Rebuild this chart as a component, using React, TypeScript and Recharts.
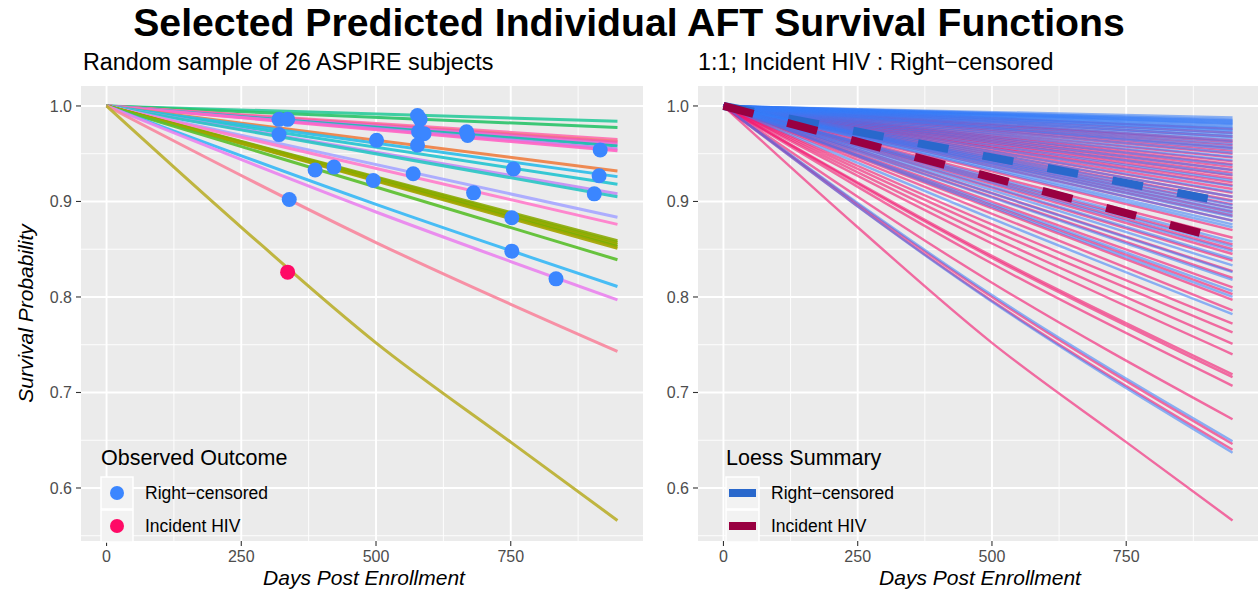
import { ComposedChart, Line, Scatter, XAxis, YAxis, CartesianGrid } from 'recharts';

const FONT = "'Liberation Sans', Arial, sans-serif";
const DAY_END = 948;

const majorX = [0, 250, 500, 750];
const minorX = [125, 375, 625, 875];
const majorY = [0.6, 0.7, 0.8, 0.9, 1.0];
const minorY = [0.55, 0.65, 0.75, 0.85, 0.95];

// left panel: predicted survival at end of follow-up, one per sampled subject
const leftEnds = [
  0.984, 0.9775, 0.965, 0.963, 0.962, 0.96, 0.958, 0.955, 0.953,
  0.932, 0.926, 0.918, 0.908, 0.905, 0.8835, 0.876,
  0.859, 0.857, 0.855, 0.853, 0.851, 0.839, 0.811, 0.797, 0.743, 0.566,
];
const leftColors = [
  '#2FCB9C', '#2DC36B', '#FF6FB0', '#F3837E', '#F45BA9', '#E572D9', '#17BFB0', '#C97BEA', '#FF66C4',
  '#EE8044', '#2EBDE8', '#26C4D0', '#C48DF3', '#2BC6C4', '#A7A7FF', '#FF7DCB',
  '#8DAA0B', '#84AD00', '#98A800', '#7CAE00', '#A3A500', '#5BBF2F', '#3AB8F5', '#E984EE', '#F7889E', '#BBB031',
];
// [curve index, day, survival]
const leftBends: [number, number, number][] = [
  [22, 500, 0.897],
  [23, 500, 0.889],
  [24, 500, 0.857],
  [25, 250, 0.873],
  [25, 500, 0.752],
  [25, 750, 0.648],
];

const censoredDays = [320, 336, 320, 501, 577, 582, 579, 589, 577, 668, 670, 916, 387, 422, 495, 569, 755, 681, 914, 905, 339, 752, 752, 834];
const censoredSurv = [0.986, 0.986, 0.97, 0.964, 0.99, 0.986, 0.973, 0.971, 0.959, 0.973, 0.969, 0.954, 0.933, 0.936, 0.922, 0.929, 0.934, 0.909, 0.927, 0.908, 0.902, 0.883, 0.848, 0.819];
const hivDays = [336];
const hivSurv = [0.826];

// right panel: 1:1 sample of censored (blue) and incident HIV (pink) subjects
const blueEnds = [
  0.988, 0.986, 0.985, 0.984, 0.983, 0.982, 0.981, 0.98, 0.978, 0.977,
  0.975, 0.974, 0.972, 0.97, 0.968, 0.966, 0.963, 0.96, 0.957, 0.955,
  0.951, 0.947, 0.943, 0.938, 0.933, 0.928, 0.922, 0.916, 0.91, 0.905,
  0.9, 0.896, 0.893, 0.89, 0.887, 0.884, 0.88, 0.876, 0.873, 0.858,
  0.853, 0.848, 0.84, 0.833, 0.826, 0.818, 0.806, 0.8, 0.782, 0.649, 0.637,
];
const blueBends: [number, number, number][] = [
  [48, 500, 0.882],
  [49, 500, 0.802],
  [50, 500, 0.795],
];
const pinkEnds = [
  0.976, 0.972, 0.968, 0.964, 0.962, 0.959, 0.956, 0.953, 0.95, 0.946,
  0.942, 0.939, 0.936, 0.933, 0.93, 0.927, 0.924, 0.92, 0.917, 0.913,
  0.909, 0.905, 0.901, 0.897, 0.893, 0.889, 0.885, 0.88, 0.87, 0.862,
  0.855, 0.85, 0.845, 0.838, 0.827, 0.82, 0.81, 0.803, 0.797, 0.786,
  0.772, 0.763, 0.751, 0.74, 0.719, 0.716, 0.707, 0.672, 0.646, 0.64, 0.566,
];
const pinkBends: [number, number, number][] = [
  [40, 500, 0.876],
  [41, 500, 0.87],
  [42, 500, 0.863],
  [43, 500, 0.856],
  [44, 500, 0.843],
  [45, 500, 0.841],
  [46, 500, 0.835],
  [47, 500, 0.815],
  [48, 500, 0.8],
  [49, 500, 0.796],
  [50, 250, 0.873],
  [50, 500, 0.752],
  [50, 750, 0.648],
];

const loessBlueEnd = 0.898;
const loessRedEnd = 0.858;

function curve(i: number, end: number, bends: [number, number, number][]) {
  const mid = bends.filter((b) => b[0] === i).map((b) => ({ day: b[1], s: b[2] }));
  return [{ day: 0, s: 1 }, ...mid, { day: DAY_END, s: end }];
}

function pairs(days: number[], surv: number[]) {
  return days.map((d, i) => ({ day: d, s: surv[i] }));
}

const tickStyle = { fontSize: 16, fill: '#4D4D4D', fontFamily: FONT };

function Panel({ width, left, children }: { width: number; left: number; children: React.ReactNode }) {
  return (
    <ComposedChart width={width} height={592} margin={{ top: 86, right: 0, bottom: 21, left }}>
      <CartesianGrid fill="#EBEBEB" stroke="#FFFFFF" strokeWidth={0.9} horizontalValues={minorY} verticalValues={minorX} />
      <CartesianGrid stroke="#FFFFFF" strokeWidth={1.9} horizontalValues={majorY} verticalValues={majorX} />
      <XAxis
        dataKey="day"
        type="number"
        domain={[-47.4, 995.4]}
        ticks={majorX}
        allowDataOverflow
        axisLine={false}
        tickLine={{ stroke: '#333333', strokeWidth: 1.1 }}
        tickSize={5}
        tickMargin={5}
        height={30}
        tick={tickStyle}
      />
      <YAxis
        dataKey="s"
        type="number"
        domain={[0.5445, 1.0209]}
        ticks={majorY}
        allowDataOverflow
        axisLine={false}
        tickLine={{ stroke: '#333333', strokeWidth: 1.1 }}
        tickSize={5}
        tickMargin={4}
        width={36}
        tick={tickStyle}
        tickFormatter={(v: number) => v.toFixed(1)}
      />
      {children}
    </ComposedChart>
  );
}

const dot = (color: string) => (p: any) => <circle cx={p.cx} cy={p.cy} r={7.5} fill={color} />;

export default function App() {
  const rightLines: React.ReactNode[] = [];
  blueEnds.forEach((end, i) => {
    rightLines.push(
      <Line key={`b${i}`} data={curve(i, end, blueBends)} dataKey="s" type="monotone" stroke="#377BF7"
        strokeOpacity={0.55} strokeWidth={2.4} dot={false} activeDot={false} isAnimationActive={false} />
    );
    if (i < pinkEnds.length) {
      rightLines.push(
        <Line key={`p${i}`} data={curve(i, pinkEnds[i], pinkBends)} dataKey="s" type="monotone" stroke="#F3146E"
          strokeOpacity={0.6} strokeWidth={2.4} dot={false} activeDot={false} isAnimationActive={false} />
      );
    }
  });

  return (
    <div style={{ position: 'absolute', left: 0, top: 0, width: 1258, height: 592, background: '#fff', fontFamily: FONT }}>
      <div style={{ position: 'absolute', left: 0, top: 0 }}>
        <Panel width={643} left={45}>
          {leftEnds.map((end, i) => (
            <Line key={i} data={curve(i, end, leftBends)} dataKey="s" type="monotone" stroke={leftColors[i]}
              strokeOpacity={0.92} strokeWidth={3} dot={false} activeDot={false} isAnimationActive={false} />
          ))}
          <Scatter data={pairs(censoredDays, censoredSurv)} dataKey="s" shape={dot('#3B86FF')} isAnimationActive={false} />
          <Scatter data={pairs(hivDays, hivSurv)} dataKey="s" shape={dot('#FF0A66')} isAnimationActive={false} />
        </Panel>
      </div>
      <div style={{ position: 'absolute', left: 645, top: 0 }}>
        <Panel width={613} left={17}>
          {rightLines}
          <Line data={[{ day: 0, s: 1 }, { day: DAY_END, s: loessBlueEnd }]} dataKey="s" stroke="#2968CC" strokeWidth={8}
            strokeDasharray="31 35" dot={false} activeDot={false} isAnimationActive={false} />
          <Line data={[{ day: 0, s: 1 }, { day: DAY_END, s: loessRedEnd }]} dataKey="s" stroke="#990041" strokeWidth={8}
            strokeDasharray="31 35" dot={false} activeDot={false} isAnimationActive={false} />
        </Panel>
      </div>
      <svg width={1258} height={592} style={{ position: 'absolute', left: 0, top: 0, pointerEvents: 'none' }} fontFamily={FONT}>
        <text x={629} y={36} textAnchor="middle" fontSize={39.2} fontWeight="bold" fill="#000">
          Selected Predicted Individual AFT Survival Functions
        </text>
        <text x={83} y={70} fontSize={23.3} fill="#000">Random sample of 26 ASPIRE subjects</text>
        <text x={698} y={70} fontSize={23.3} fill="#000">1:1; Incident HIV : Right−censored</text>
        <text transform="translate(33,313.5) rotate(-90)" textAnchor="middle" fontSize={21} fontStyle="italic" fill="#000">
          Survival Probability
        </text>
        <text x={364} y={585} textAnchor="middle" fontSize={21} fontStyle="italic" fill="#000">Days Post Enrollment</text>
        <text x={980} y={585} textAnchor="middle" fontSize={21} fontStyle="italic" fill="#000">Days Post Enrollment</text>

        <text x={101} y={465} fontSize={21.5} fill="#000">Observed Outcome</text>
        <rect x={101} y={477} width={32} height={32} fill="#F2F2F2" stroke="#FFFFFF" strokeWidth={1.5} />
        <rect x={101} y={510} width={32} height={32} fill="#F2F2F2" stroke="#FFFFFF" strokeWidth={1.5} />
        <circle cx={117} cy={493} r={7} fill="#3B86FF" />
        <circle cx={117} cy={526} r={7} fill="#FF0A66" />
        <text x={145} y={499} fontSize={17.5} fill="#000">Right−censored</text>
        <text x={145} y={532} fontSize={17.5} fill="#000">Incident HIV</text>

        <text x={726} y={465} fontSize={21.5} fill="#000">Loess Summary</text>
        <rect x={726} y={477} width={33} height={32} fill="#F2F2F2" stroke="#FFFFFF" strokeWidth={1.5} />
        <rect x={726} y={510} width={33} height={32} fill="#F2F2F2" stroke="#FFFFFF" strokeWidth={1.5} />
        <line x1={729} y1={493} x2={756} y2={493} stroke="#2968CC" strokeWidth={8} />
        <line x1={729} y1={526} x2={756} y2={526} stroke="#990041" strokeWidth={8} />
        <text x={771} y={499} fontSize={17.5} fill="#000">Right−censored</text>
        <text x={771} y={532} fontSize={17.5} fill="#000">Incident HIV</text>
      </svg>
    </div>
  );
}
